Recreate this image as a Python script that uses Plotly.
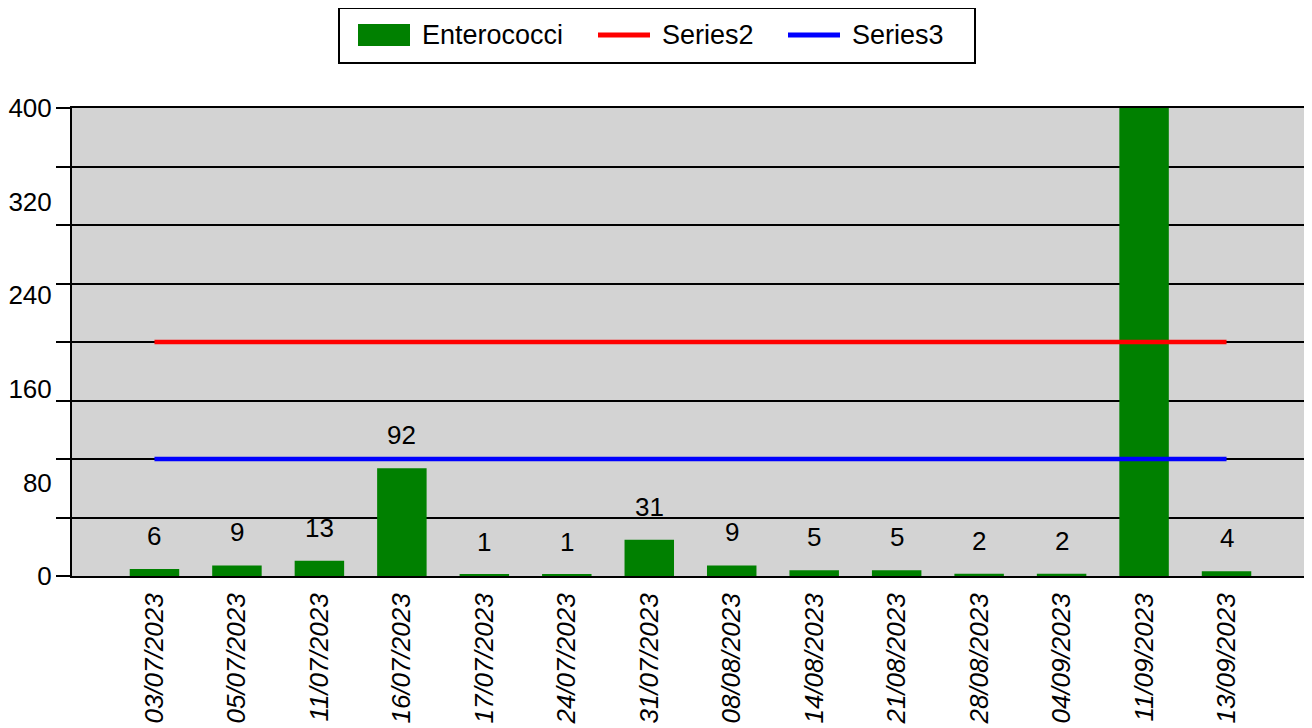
import plotly.graph_objects as go

dates = ["03/07/2023", "05/07/2023", "11/07/2023", "16/07/2023", "17/07/2023",
         "24/07/2023", "31/07/2023", "08/08/2023", "14/08/2023", "21/08/2023",
         "28/08/2023", "04/09/2023", "11/09/2023", "13/09/2023"]
enterococci = [6, 9, 13, 92, 1, 1, 31, 9, 5, 5, 2, 2, 420, 4]
series2 = [200] * len(dates)
series3 = [100] * len(dates)
y_labels = [0, 80, 160, 240, 320, 400]
y_max = 400
grid_step = 50

legend_names = ["Enterococci", "Series2", "Series3"]
legend_colors = ["#008000", "#ff0000", "#0000ff"]

FONT = "Arial, Liberation Sans, sans-serif"
FS = 26

# page body has an 8px margin: figure drawn at window offset (8, 8)
OFF = 8
W, H = 1304, 720
ML, MR, MT, MB = 64, 3, 100, 152
PW = W - ML - MR
PH = H - MT - MB


def px(x):
    # window pixel -> paper x
    return (x - OFF - ML) / PW


def py(y):
    # window pixel -> paper y
    return (H - MB - (y - OFF)) / PH


fig = go.Figure()
fig.add_trace(go.Bar(x=list(range(len(dates))), y=enterococci, name=legend_names[0],
                     marker=dict(color=legend_colors[0], line=dict(width=0)), width=0.6))
fig.add_trace(go.Scatter(x=list(range(len(dates))), y=series2, name=legend_names[1], mode="lines",
                         line=dict(color=legend_colors[1], width=4.5)))
fig.add_trace(go.Scatter(x=list(range(len(dates))), y=series3, name=legend_names[2], mode="lines",
                         line=dict(color=legend_colors[2], width=4.5)))
# invisible trace to activate second y axis for labels
fig.add_trace(go.Scatter(x=[0], y=[0], yaxis="y2", mode="markers",
                         marker=dict(opacity=0), showlegend=False, hoverinfo="skip"))

for i, v in enumerate(enterococci):
    if v <= y_max:
        fig.add_annotation(x=i, y=v, xref="x", yref="y", text=str(v), showarrow=False,
                           yshift=33, yanchor="middle",
                           font=dict(family=FONT, size=FS, color="black"))

# custom legend (box, swatches, text)
shapes = [dict(type="rect", xref="paper", yref="paper", x0=px(339), x1=px(975),
               y0=py(63), y1=py(8), line=dict(color="black", width=2), fillcolor="white",
               layer="above")]
sw_x = [358, 598, 788]
shapes.append(dict(type="rect", xref="paper", yref="paper", x0=px(sw_x[0]), x1=px(sw_x[0] + 52),
                   y0=py(46), y1=py(24), line=dict(width=0), fillcolor=legend_colors[0],
                   layer="above"))
for k in (1, 2):
    shapes.append(dict(type="line", xref="paper", yref="paper", x0=px(sw_x[k]),
                       x1=px(sw_x[k] + 52), y0=py(35), y1=py(35),
                       line=dict(color=legend_colors[k], width=5), layer="above"))
for k in range(3):
    fig.add_annotation(x=px(sw_x[k] + 62), y=py(35), xref="paper", yref="paper",
                       text=legend_names[k], showarrow=False, xanchor="left",
                       yanchor="middle",
                       font=dict(family=FONT, size=27, color="black"))

fig.update_layout(
    width=W, height=H,
    margin=dict(l=ML, r=MR, t=MT, b=MB, autoexpand=False),
    paper_bgcolor="white", plot_bgcolor="#d3d3d3",
    font=dict(family=FONT, size=FS, color="black"),
    showlegend=False,
    shapes=shapes,
    xaxis=dict(range=[-1, len(dates)], tickmode="array",
               tickvals=list(range(len(dates))), ticktext=dates,
               tickangle=-90, ticks="", ticklabelstandoff=5,
               tickfont=dict(family=FONT, size=FS, color="black", style="italic"),
               showgrid=False, zeroline=False,
               showline=True, linecolor="black", linewidth=2, mirror=True,
               automargin=False),
    yaxis=dict(range=[0, y_max], dtick=grid_step, tick0=0, showticklabels=False,
               ticks="outside", ticklen=14, tickcolor="black", tickwidth=1.5,
               showgrid=True, gridcolor="black", gridwidth=1.5, zeroline=False,
               showline=True, linecolor="black", linewidth=2, mirror=True,
               automargin=False),
    yaxis2=dict(range=[0, y_max], overlaying="y", side="left", tickmode="array",
                tickvals=y_labels, ticks="outside", ticklen=14,
                tickcolor="rgba(0,0,0,0)", showgrid=False, zeroline=False,
                showline=False, tickfont=dict(family=FONT, size=FS, color="black"),
                automargin=False),
)

fig.write_html("out.html")
